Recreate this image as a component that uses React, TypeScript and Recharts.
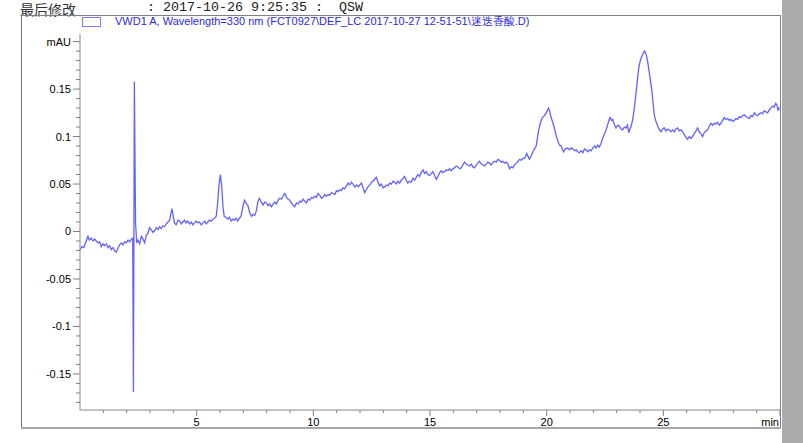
import { LineChart, Line, XAxis, YAxis } from "recharts";

// retention time (min) and detector signal (mAU)
const retentionTimes = [
  0.0, 0.08, 0.16, 0.25, 0.34, 0.4, 0.48, 0.56, 0.63, 0.7, 0.78, 0.85, 0.91, 0.98, 1.05, 1.13, 1.2, 1.27, 1.34, 1.41,
  1.48, 1.55, 1.62, 1.7, 1.77, 1.84, 1.91, 1.98, 2.06, 2.13, 2.2, 2.26, 2.29, 2.33, 2.38, 2.43, 2.48, 2.56, 2.63, 2.7,
  2.77, 2.84, 2.91, 2.98, 3.05, 3.13, 3.2, 3.27, 3.34, 3.41, 3.48, 3.55, 3.62, 3.7, 3.77, 3.84, 3.9, 3.94, 3.99, 4.05,
  4.12, 4.2, 4.27, 4.34, 4.41, 4.48, 4.55, 4.62, 4.7, 4.77, 4.84, 4.91, 4.98, 5.05, 5.12, 5.2, 5.27, 5.34, 5.41, 5.48,
  5.55, 5.62, 5.69, 5.76, 5.84, 5.9, 5.96, 6.02, 6.08, 6.13, 6.18, 6.25, 6.34, 6.41, 6.48, 6.55, 6.62, 6.69, 6.76, 6.83,
  6.9, 6.97, 7.05, 7.12, 7.2, 7.27, 7.35, 7.42, 7.49, 7.56, 7.62, 7.68, 7.75, 7.85, 7.92, 7.99, 8.06, 8.13, 8.2, 8.28,
  8.35, 8.42, 8.49, 8.56, 8.64, 8.71, 8.78, 8.85, 8.92, 8.99, 9.06, 9.13, 9.2, 9.28, 9.35, 9.42, 9.49, 9.56, 9.63, 9.7,
  9.78, 9.85, 9.92, 9.99, 10.06, 10.13, 10.2, 10.28, 10.35, 10.42, 10.49, 10.56, 10.63, 10.7, 10.78, 10.85, 10.92, 10.99, 11.06, 11.13,
  11.2, 11.27, 11.34, 11.42, 11.49, 11.56, 11.63, 11.7, 11.77, 11.85, 11.92, 11.99, 12.06, 12.13, 12.2, 12.27, 12.34, 12.42, 12.49, 12.56,
  12.63, 12.7, 12.77, 12.84, 12.91, 12.99, 13.06, 13.13, 13.2, 13.27, 13.34, 13.42, 13.48, 13.56, 13.63, 13.7, 13.77, 13.84, 13.91, 13.98,
  14.05, 14.12, 14.2, 14.27, 14.34, 14.41, 14.48, 14.55, 14.62, 14.7, 14.77, 14.84, 14.91, 14.98, 15.05, 15.12, 15.2, 15.27, 15.34, 15.41,
  15.48, 15.55, 15.62, 15.7, 15.77, 15.84, 15.91, 15.98, 16.05, 16.12, 16.2, 16.27, 16.34, 16.41, 16.48, 16.55, 16.62, 16.7, 16.77, 16.84,
  16.91, 16.98, 17.05, 17.12, 17.2, 17.27, 17.34, 17.41, 17.48, 17.55, 17.62, 17.7, 17.77, 17.84, 17.91, 17.98, 18.05, 18.12, 18.2, 18.27,
  18.34, 18.41, 18.48, 18.55, 18.62, 18.7, 18.77, 18.84, 18.91, 18.98, 19.05, 19.15, 19.26, 19.34, 19.41, 19.48, 19.55, 19.6, 19.66, 19.73,
  19.81, 19.9, 19.98, 20.08, 20.14, 20.19, 20.26, 20.33, 20.4, 20.48, 20.55, 20.62, 20.72, 20.8, 20.9, 20.98, 21.05, 21.12, 21.2, 21.27,
  21.33, 21.4, 21.48, 21.55, 21.62, 21.69, 21.76, 21.83, 21.9, 21.98, 22.05, 22.12, 22.19, 22.26, 22.33, 22.4, 22.48, 22.55, 22.62, 22.68,
  22.72, 22.78, 22.83, 22.9, 22.97, 23.05, 23.12, 23.19, 23.26, 23.33, 23.4, 23.46, 23.52, 23.57, 23.62, 23.67, 23.72, 23.78, 23.83, 23.89,
  23.94, 24.01, 24.09, 24.14, 24.19, 24.24, 24.28, 24.34, 24.4, 24.46, 24.52, 24.56, 24.61, 24.68, 24.76, 24.83, 24.9, 24.97, 25.04, 25.11,
  25.19, 25.26, 25.33, 25.4, 25.47, 25.54, 25.61, 25.68, 25.76, 25.83, 25.9, 25.97, 26.04, 26.11, 26.18, 26.25, 26.32, 26.4, 26.47, 26.54,
  26.61, 26.68, 26.75, 26.83, 26.9, 26.97, 27.04, 27.11, 27.18, 27.25, 27.32, 27.4, 27.47, 27.54, 27.61, 27.68, 27.76, 27.83, 27.9, 27.97,
  28.04, 28.11, 28.18, 28.25, 28.32, 28.4, 28.47, 28.54, 28.61, 28.68, 28.75, 28.83, 28.9, 28.97, 29.04, 29.11, 29.18, 29.25, 29.32, 29.4,
  29.47, 29.54, 29.61, 29.68, 29.75, 29.82, 29.87, 29.92, 29.97,
];

const absorbance = [
  -0.019, -0.016, -0.017, -0.011, -0.005, -0.009, -0.007, -0.01, -0.008, -0.01, -0.012, -0.011, -0.016, -0.013, -0.015, -0.013, -0.017, -0.015, -0.019, -0.017,
  -0.02, -0.022, -0.018, -0.014, -0.012, -0.014, -0.011, -0.012, -0.009, -0.011, -0.008, -0.007, -0.169, 0.158, 0.01, -0.012, -0.009, -0.013, -0.005, -0.008,
  -0.012, -0.004, -0.002, 0.004, 0.002, -0.001, 0.001, 0.004, 0.002, 0.005, 0.003, 0.006, 0.005, 0.008, 0.01, 0.012, 0.019, 0.024, 0.017, 0.009,
  0.007, 0.012, 0.011, 0.008, 0.01, 0.012, 0.009, 0.011, 0.008, 0.01, 0.007, 0.009, 0.011, 0.009, 0.01, 0.007, 0.009, 0.011, 0.008, 0.01,
  0.012, 0.011, 0.013, 0.014, 0.016, 0.03, 0.05, 0.06, 0.045, 0.025, 0.016, 0.015, 0.013, 0.015, 0.011, 0.013, 0.012, 0.014, 0.011, 0.014,
  0.016, 0.025, 0.033, 0.03, 0.027, 0.02, 0.016, 0.018, 0.017, 0.022, 0.031, 0.035, 0.032, 0.028, 0.031, 0.03, 0.027, 0.029, 0.026, 0.029,
  0.031, 0.029, 0.033, 0.035, 0.034, 0.038, 0.04, 0.036, 0.034, 0.033, 0.03, 0.028, 0.026, 0.03, 0.029, 0.032, 0.031, 0.034, 0.032, 0.03,
  0.034, 0.033, 0.036, 0.035, 0.037, 0.036, 0.04, 0.038, 0.035, 0.036, 0.039, 0.037, 0.039, 0.038, 0.041, 0.04, 0.039, 0.043, 0.042, 0.044,
  0.043, 0.046, 0.045, 0.048, 0.051, 0.049, 0.052, 0.05, 0.047, 0.049, 0.047, 0.049, 0.051, 0.046, 0.041, 0.044, 0.047, 0.049, 0.052, 0.053,
  0.055, 0.057, 0.052, 0.048, 0.05, 0.046, 0.047, 0.049, 0.048, 0.051, 0.05, 0.053, 0.052, 0.05, 0.053, 0.051, 0.054, 0.056, 0.058, 0.054,
  0.051, 0.053, 0.052, 0.056, 0.054, 0.057, 0.06, 0.058, 0.062, 0.065, 0.061, 0.063, 0.06, 0.059, 0.061, 0.063, 0.059, 0.055, 0.058, 0.062,
  0.064, 0.062, 0.063, 0.065, 0.064, 0.066, 0.064, 0.066, 0.067, 0.069, 0.068, 0.066, 0.067, 0.07, 0.073, 0.071, 0.07, 0.069, 0.071, 0.068,
  0.067, 0.07, 0.072, 0.074, 0.071, 0.07, 0.069, 0.071, 0.073, 0.072, 0.07, 0.073, 0.074, 0.073, 0.076, 0.075, 0.073, 0.074, 0.072, 0.073,
  0.071, 0.066, 0.068, 0.067, 0.07, 0.072, 0.074, 0.076, 0.075, 0.077, 0.077, 0.082, 0.076, 0.08, 0.084, 0.087, 0.09, 0.098, 0.107, 0.114,
  0.12, 0.122, 0.125, 0.13, 0.126, 0.12, 0.115, 0.109, 0.102, 0.095, 0.091, 0.09, 0.084, 0.087, 0.088, 0.086, 0.088, 0.087, 0.085, 0.086,
  0.084, 0.083, 0.085, 0.083, 0.087, 0.086, 0.084, 0.086, 0.085, 0.088, 0.09, 0.088, 0.091, 0.089, 0.093, 0.098, 0.103, 0.107, 0.113, 0.118,
  0.12, 0.117, 0.118, 0.113, 0.109, 0.112, 0.111, 0.108, 0.107, 0.11, 0.109, 0.112, 0.104, 0.108, 0.111, 0.116, 0.123, 0.135, 0.146, 0.16,
  0.171, 0.18, 0.185, 0.188, 0.19, 0.188, 0.185, 0.177, 0.167, 0.157, 0.146, 0.135, 0.123, 0.116, 0.111, 0.107, 0.105, 0.108, 0.109, 0.106,
  0.108, 0.107, 0.105, 0.107, 0.105, 0.108, 0.109, 0.106, 0.107, 0.105, 0.102, 0.099, 0.097, 0.1, 0.098, 0.1, 0.103, 0.106, 0.109, 0.105,
  0.103, 0.1, 0.104, 0.106, 0.107, 0.111, 0.114, 0.112, 0.114, 0.113, 0.115, 0.112, 0.114, 0.117, 0.12, 0.118, 0.119, 0.117, 0.118, 0.116,
  0.117, 0.119, 0.118, 0.121, 0.12, 0.122, 0.123, 0.121, 0.12, 0.119, 0.122, 0.121, 0.125, 0.123, 0.122, 0.124, 0.125, 0.124, 0.127, 0.126,
  0.125, 0.128, 0.13, 0.132, 0.131, 0.135, 0.133, 0.127, 0.131,
];

const xTicks = [1, 2, 3, 4, 5, 6, 7, 8, 9, 10, 11, 12, 13, 14, 15, 16, 17, 18, 19, 20, 21, 22, 23, 24, 25, 26, 27, 28, 29, 30];
const xMajorTicks = [5, 10, 15, 20, 25, 30];
const xMajorLabels = ["5", "10", "15", "20", "25", "min"];

const yTicks = [
  -0.18, -0.17, -0.16, -0.15, -0.14, -0.13, -0.12, -0.11, -0.1, -0.09, -0.08, -0.07, -0.06, -0.05, -0.04, -0.03, -0.02, -0.01, 0,
  0.01, 0.02, 0.03, 0.04, 0.05, 0.06, 0.07, 0.08, 0.09, 0.1, 0.11, 0.12, 0.13, 0.14, 0.15, 0.16, 0.17, 0.18, 0.19, 0.2,
];
const yMajorTicks = [-0.15, -0.1, -0.05, 0, 0.05, 0.1, 0.15, 0.2];
const yMajorLabels = ["-0.15", "-0.1", "-0.05", "0", "0.05", "0.1", "0.15", "mAU"];

const legendLabel = "VWD1 A, Wavelength=330 nm (FCT0927\\DEF_LC 2017-10-27 12-51-51\\迷迭香酸.D)";

const data = retentionTimes.map((t, i) => ({ t, mAU: absorbance[i] }));

const AXIS_LEFT = 80;
const AXIS_BOTTOM = 410;
const tickFont = "'Liberation Sans', Arial, sans-serif";

const findMajor = (list: number[], v: number) => list.findIndex((m) => Math.abs(m - v) < 1e-6);

const YTick = (props: any) => {
  const { y, payload } = props;
  const idx = findMajor(yMajorTicks, payload.value);
  const len = idx >= 0 ? 7 : 4;
  return (
    <g>
      <line x1={AXIS_LEFT - len} x2={AXIS_LEFT} y1={y} y2={y} stroke="#808080" />
      {idx >= 0 && (
        <text x={AXIS_LEFT - 9} y={y + 4} textAnchor="end" fontSize={11} fontFamily={tickFont} fill="#000">
          {yMajorLabels[idx]}
        </text>
      )}
    </g>
  );
};

const XTick = (props: any) => {
  const { x, payload } = props;
  const idx = findMajor(xMajorTicks, payload.value);
  const isUnit = idx >= 0 && xMajorLabels[idx] === "min";
  return (
    <g>
      <line x1={x} x2={x} y1={AXIS_BOTTOM} y2={AXIS_BOTTOM + (idx >= 0 ? 6 : 3)} stroke="#808080" />
      {idx >= 0 && (
        <text
          x={isUnit ? x - 1 : x}
          y={AXIS_BOTTOM + 16}
          textAnchor={isUnit ? "end" : "middle"}
          fontSize={11}
          fontFamily={tickFont}
          fill="#000"
        >
          {xMajorLabels[idx]}
        </text>
      )}
    </g>
  );
};

export default function App() {
  return (
    <div style={{ position: "absolute", left: 0, top: 0, width: 803, height: 443, background: "#fff", overflow: "hidden" }}>
      <div
        style={{
          position: "absolute",
          left: 20,
          top: 1,
          fontFamily: "'Noto Sans CJK SC', sans-serif",
          fontSize: 14,
          lineHeight: "16px",
          color: "#333",
          whiteSpace: "nowrap",
        }}
      >
        最后修改
      </div>
      <div
        style={{
          position: "absolute",
          left: 147,
          top: 0,
          fontFamily: "'Liberation Mono', monospace",
          fontSize: 13.33,
          color: "#222",
          whiteSpace: "pre",
        }}
      >
        {": 2017-10-26 9:25:35 :  QSW"}
      </div>

      {/* frame */}
      <div style={{ position: "absolute", left: 21, top: 15, width: 760, height: 1, background: "#808080" }} />
      <div style={{ position: "absolute", left: 21, top: 15, width: 1, height: 413, background: "#707070" }} />
      <div style={{ position: "absolute", left: 780, top: 15, width: 1, height: 413, background: "#808080" }} />
      <div style={{ position: "absolute", left: 21, top: 427, width: 760, height: 2, background: "#a8a8a8" }} />
      <div style={{ position: "absolute", left: 782, top: 0, width: 21, height: 443, background: "#ababab" }} />

      {/* legend */}
      <div style={{ position: "absolute", left: 82, top: 17, width: 17, height: 8, border: "1px solid #7b7bff" }} />
      <div
        style={{
          position: "absolute",
          left: 115,
          top: 14,
          fontFamily: tickFont,
          fontSize: 11,
          color: "#2a2ae0",
          whiteSpace: "nowrap",
        }}
      >
        {legendLabel}
      </div>

      <div style={{ position: "absolute", left: 0, top: 0 }}>
        <LineChart width={803} height={443} data={data} margin={{ top: 34, right: 23, left: 0, bottom: 0 }}>
          <XAxis
            dataKey="t"
            type="number"
            domain={[0, 30]}
            ticks={xTicks}
            interval={0}
            height={33}
            axisLine={{ stroke: "#888" }}
            tickLine={false}
            tick={<XTick />}
          />
          <YAxis
            type="number"
            domain={[-0.188, 0.208]}
            ticks={yTicks}
            interval={0}
            width={80}
            axisLine={{ stroke: "#888" }}
            tickLine={false}
            tick={<YTick />}
          />
          <Line
            type="linear"
            dataKey="mAU"
            stroke="#6262ff"
            strokeWidth={1.3}
            dot={false}
            isAnimationActive={false}
          />
        </LineChart>
      </div>
    </div>
  );
}
